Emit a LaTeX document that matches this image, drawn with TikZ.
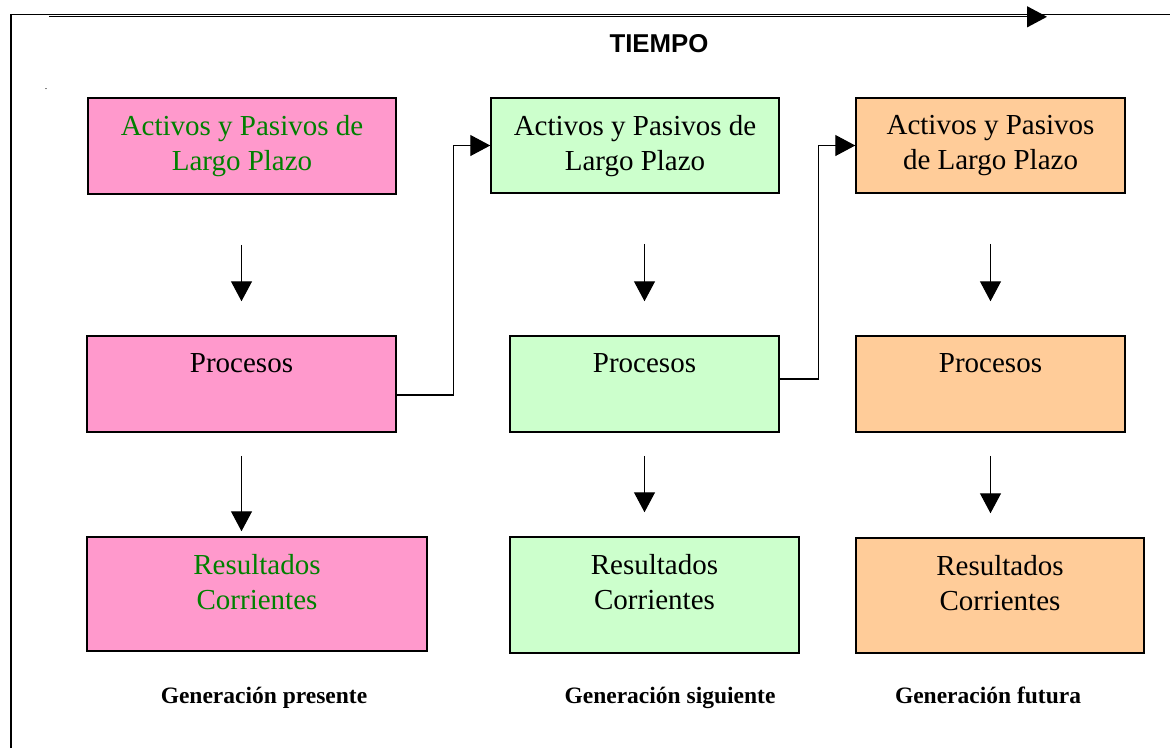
\documentclass[tikz,border=0pt]{standalone}
\usepackage{fontspec}
\setmainfont{Liberation Serif}
\newfontfamily\arialfont{Liberation Sans}
\usepackage{tikz}
\usepackage{xcolor}
\usetikzlibrary{positioning,arrows.meta}
\definecolor{rosa}{HTML}{FF99CC}
\definecolor{verdeclaro}{HTML}{CCFFCC}
\definecolor{naranja}{HTML}{FFCC99}
\definecolor{verdetexto}{HTML}{008000}

\begin{document}
\begin{tikzpicture}[x=1pt,y=-1pt]
\tikzstyle{every node}+=[inner sep=0pt]
\tikzstyle{caja}=[draw=black,line width=1.5pt]
\tikzstyle{texto}=[align=center,font=\fontsize{29}{35}\selectfont]
\tikzstyle{flecha}=[black,line width=1.3pt,-{Triangle[length=20pt,width=21pt]}]
\tikzstyle{gen}=[anchor=base,font=\bfseries\fontsize{23.5}{28}\selectfont]
\useasboundingbox (0,0) rectangle (1170,748);
\draw [black,line width=1.5pt] (11,748) -- (11,14.5) -- (1170,14.5);
\coordinate (inicio) at (49,16.8);
\coordinate (fin) at (1047,16.8);
\draw [flecha] (inicio) -- (fin);
\node [anchor=base,font=\arialfont\bfseries\fontsize{25.8}{30}\selectfont] (tiempo) at (659,52) {TIEMPO};
\node [anchor=base,font=\fontsize{10}{12}\selectfont] (punto) at (46,89) {.};
\node [caja,fill=rosa,minimum width=308,minimum height=96] (act1) at (242,146) {};
\node [caja,fill=rosa,minimum width=309,minimum height=96] (proc1) at (241.5,384) {};
\node [caja,fill=rosa,minimum width=340,minimum height=114] (res1) at (257,594) {};
\node [caja,fill=verdeclaro,minimum width=288,minimum height=95] (act2) at (635,145.5) {};
\node [caja,fill=verdeclaro,minimum width=269,minimum height=96] (proc2) at (644.5,384) {};
\node [caja,fill=verdeclaro,minimum width=289,minimum height=116] (res2) at (654.5,595) {};
\node [caja,fill=naranja,minimum width=269,minimum height=95] (act3) at (990.5,145.5) {};
\node [caja,fill=naranja,minimum width=269,minimum height=96] (proc3) at (990.5,384) {};
\node [caja,fill=naranja,minimum width=288,minimum height=115] (res3) at (1000,595.5) {};
\node [texto,text=verdetexto,below=18pt of act1.north] (tact1) {Activos y Pasivos de\\Largo Plazo};
\node [texto,below=18pt of proc1.north] (tproc1) {Procesos};
\node [texto,text=verdetexto,below=18pt of res1.north] (tres1) {Resultados\\Corrientes};
\node [texto,below=18pt of act2.north] (tact2) {Activos y Pasivos de\\Largo Plazo};
\node [texto,below=18pt of proc2.north] (tproc2) {Procesos};
\node [texto,below=18pt of res2.north] (tres2) {Resultados\\Corrientes};
\node [texto,below=18pt of act3.north] (tact3) {Activos y Pasivos\\de Largo Plazo};
\node [texto,below=18pt of proc3.north] (tproc3) {Procesos};
\node [texto,below=18pt of res3.north] (tres3) {Resultados\\Corrientes};
\draw [flecha,shorten <=50pt,shorten >=34pt] (proc1.north |- act1.south) -- (proc1.north);
\draw [flecha,shorten <=23pt,shorten >=5pt] (proc1.south) -- (proc1.south |- res1.north);
\draw [flecha,shorten <=50pt,shorten >=34pt] (proc2.north |- act2.south) -- (proc2.north);
\draw [flecha,shorten <=23pt,shorten >=24pt] (proc2.south) -- (proc2.south |- res2.north);
\draw [flecha,shorten <=50pt,shorten >=34pt] (proc3.north |- act3.south) -- (proc3.north);
\draw [flecha,shorten <=23pt,shorten >=24pt] (proc3.south) -- (proc3.south |- res3.north);
\draw [flecha] ([yshift=-11pt]proc1.east) -- ++(57,0) |- (act2.west);
\draw [flecha] ([yshift=5pt]proc2.east) -- ++(39,0) |- (act3.west);
\node [gen] (gen1) at (264,703) {Generación presente};
\node [gen] (gen2) at (670,703) {Generación siguiente};
\node [gen] (gen3) at (988,703) {Generación futura};
\end{tikzpicture}
\end{document}
